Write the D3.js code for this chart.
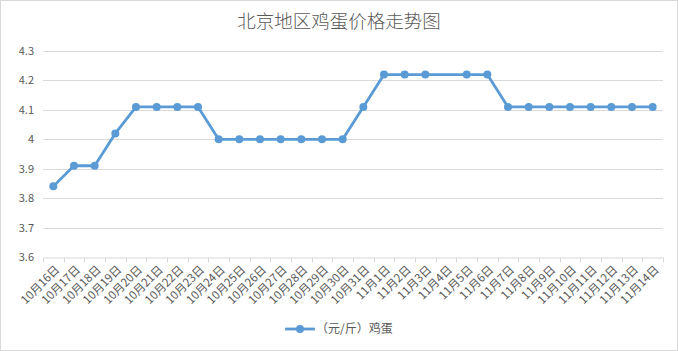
<!DOCTYPE html>
<html><head><meta charset="utf-8">
<script src="https://cdn.jsdelivr.net/npm/d3@7"></script>
<style>body{margin:0;background:#fff}svg{display:block}</style>
</head><body>
<svg id="c" width="678" height="351"></svg>
<script>
const categories = ["10月16日","10月17日","10月18日","10月19日","10月20日","10月21日","10月22日","10月23日","10月24日","10月25日","10月26日","10月27日","10月28日","10月29日","10月30日","10月31日","11月1日","11月2日","11月3日","11月4日","11月5日","11月6日","11月7日","11月8日","11月9日","11月10日","11月11日","11月12日","11月13日","11月14日"];
const prices = [3.84,3.91,3.91,4.02,4.11,4.11,4.11,4.11,4.00,4.00,4.00,4.00,4.00,4.00,4.00,4.11,4.22,4.22,4.22,null,4.22,4.22,4.11,4.11,4.11,4.11,4.11,4.11,4.11,4.11];
const yTicks = [3.6,3.7,3.8,3.9,4.0,4.1,4.2,4.3];
const seriesName = "（元/斤）鸡蛋";
const title = "北京地区鸡蛋价格走势图";

(function(){
const W = 678, H = 351;
const svg = d3.select("#c");
const font = "'Microsoft YaHei','Noto Sans CJK SC','DejaVu Sans',sans-serif";
svg.append("rect").attr("x",0.5).attr("y",0.5).attr("width",W-1).attr("height",H-1)
  .attr("fill","#fff").attr("stroke","#d9d9d9");

const pl = 43, pr = 663, pt = 51, pb = 257;
const x = d3.scaleBand().domain(categories).range([pl,pr]);
const y = d3.scaleLinear().domain([3.6,4.3]).range([pb,pt]);

svg.append("g").selectAll("line").data(yTicks.slice(1)).join("line")
  .attr("x1",pl).attr("x2",pr).attr("y1",d=>Math.round(y(d))+0.5).attr("y2",d=>Math.round(y(d))+0.5)
  .attr("stroke","#d9d9d9");

const ya = svg.append("g").attr("transform",`translate(${pl},0)`)
  .call(d3.axisLeft(y).tickValues(yTicks).tickSize(0).tickPadding(9).tickFormat(d=>String(+d.toFixed(1))));
ya.select(".domain").remove();
ya.selectAll("text").attr("fill","#595959").style("font-family",font).style("font-size","11px");

const xa = svg.append("g").attr("transform",`translate(0,${Math.round(pb)+0.5})`)
  .call(d3.axisBottom(x).tickSize(0));
xa.select(".domain").attr("stroke","#d9d9d9");
xa.selectAll(".tick line").remove();
xa.selectAll(".tick text").remove();
const bounds = categories.map(c=>x(c)).concat([pr]);
xa.append("g").selectAll("line").data(bounds).join("line")
  .attr("x1",d=>Math.round(d)+0.5).attr("x2",d=>Math.round(d)+0.5).attr("y1",0).attr("y2",5)
  .attr("stroke","#d9d9d9");
xa.append("g").selectAll("text").data(categories).join("text")
  .attr("transform",d=>`translate(${x(d)+x.bandwidth()/2+4},${10}) rotate(-45)`)
  .attr("text-anchor","end").attr("dy","0.35em")
  .attr("fill","#595959").style("font-family",font).style("font-size","11.5px")
  .text(d=>d);

const pts = categories.map((c,i)=>({c,v:prices[i]})).filter(d=>d.v!=null);
const color = "#5b9bd5";
svg.append("path").datum(pts)
  .attr("d",d3.line().x(d=>x(d.c)+x.bandwidth()/2).y(d=>y(d.v)))
  .attr("fill","none").attr("stroke",color).attr("stroke-width",2.8).attr("stroke-linejoin","round");
svg.append("g").selectAll("circle").data(pts).join("circle")
  .attr("cx",d=>x(d.c)+x.bandwidth()/2).attr("cy",d=>y(d.v)).attr("r",4).attr("fill",color);

svg.append("text").attr("x",W/2).attr("y",28).attr("text-anchor","middle")
  .attr("fill","#595959").style("font-family",font).style("font-size","18.5px").style("font-weight","300").text(title);

const lg = svg.append("g").attr("transform","translate(285,329)");
lg.append("line").attr("x1",0).attr("x2",30).attr("y1",0).attr("y2",0).attr("stroke",color).attr("stroke-width",2.8);
lg.append("circle").attr("cx",15).attr("cy",0).attr("r",4).attr("fill",color);
lg.append("text").attr("x",31).attr("y",0).attr("dy","0.35em").attr("fill","#595959")
  .style("font-family",font).style("font-size","12px").text(seriesName);
})();
</script>
</body></html>
